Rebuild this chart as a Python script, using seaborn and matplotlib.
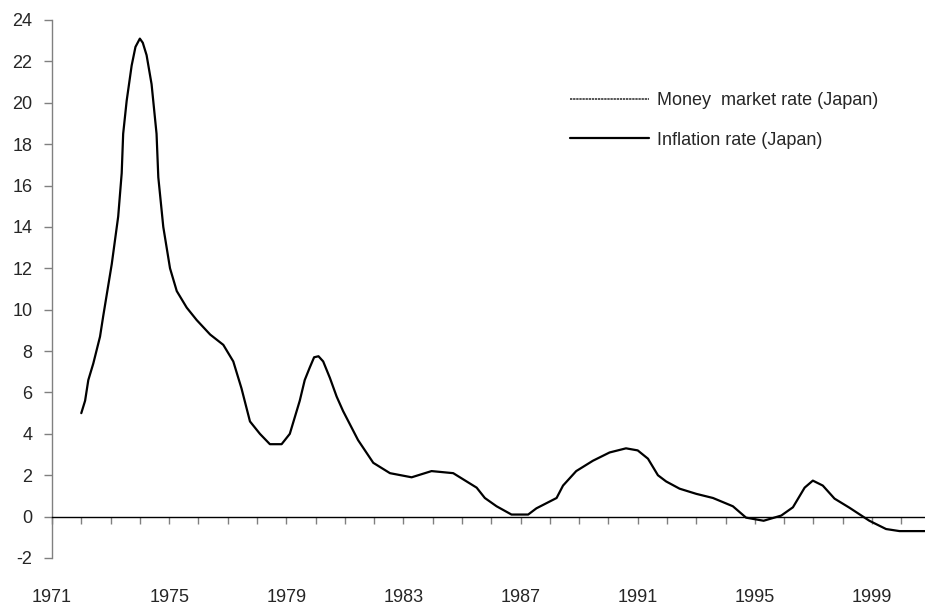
import matplotlib
matplotlib.use("Agg")
import matplotlib.pyplot as plt
from matplotlib.lines import Line2D
from matplotlib import font_manager
import seaborn as sns
import pandas as pd

years = [1972.0, 1972.13, 1972.24, 1972.41, 1972.64, 1972.75, 1973.04, 1973.26, 1973.38,
         1973.43, 1973.55, 1973.72, 1973.85, 1974.0, 1974.1, 1974.23, 1974.4, 1974.57,
         1974.63, 1974.8, 1975.03, 1975.26, 1975.6, 1975.94, 1976.4, 1976.85, 1977.19,
         1977.47, 1977.76, 1978.1, 1978.44, 1978.84, 1979.12, 1979.46, 1979.63, 1979.8,
         1979.95, 1980.1, 1980.26, 1980.49, 1980.72, 1980.94, 1981.45, 1981.97, 1982.54,
         1983.28, 1983.96, 1984.7, 1985.5, 1985.78, 1986.18, 1986.69, 1987.26, 1987.54,
         1988.23, 1988.45, 1988.9, 1989.47, 1990.04, 1990.6, 1991.0, 1991.35, 1991.69,
         1991.97, 1992.43, 1993.0, 1993.57, 1994.25, 1994.7, 1995.3, 1995.9, 1996.3,
         1996.7, 1996.98, 1997.32, 1997.72, 1998.23, 1998.91, 1999.48, 1999.94, 2000.8]
inflation = [5.0, 5.6, 6.6, 7.4, 8.7, 9.7, 12.2, 14.5, 16.6,
             18.5, 20.1, 21.8, 22.7, 23.1, 22.9, 22.3, 20.9, 18.5,
             16.4, 14.0, 12.0, 10.9, 10.1, 9.5, 8.8, 8.3, 7.5,
             6.2, 4.6, 4.0, 3.5, 3.5, 4.0, 5.6, 6.6, 7.2,
             7.7, 7.75, 7.5, 6.7, 5.8, 5.1, 3.7, 2.6, 2.1,
             1.9, 2.2, 2.1, 1.4, 0.9, 0.5, 0.1, 0.1, 0.4,
             0.9, 1.5, 2.2, 2.7, 3.1, 3.3, 3.2, 2.8, 2.0,
             1.7, 1.35, 1.1, 0.9, 0.5, -0.05, -0.2, 0.05, 0.45,
             1.4, 1.74, 1.5, 0.87, 0.43, -0.2, -0.6, -0.7, -0.7]

x_tick_labels = ["1971", "1975", "1979", "1983", "1987", "1991", "1995", "1999"]
y_ticks = list(range(-2, 25, 2))
legend_labels = ["Money  market rate (Japan)", "Inflation rate (Japan)"]

sns.set_style("white")
names = {f.name for f in font_manager.fontManager.ttflist}
narrow = "Liberation Sans Narrow" in names
plt.rcParams["font.family"] = ["Liberation Sans", "DejaVu Sans"]
small_font = {"family": ["Liberation Sans Narrow" if narrow else "Liberation Sans"],
              "size": 15 if narrow else 13}

fig = plt.figure(figsize=(9.25, 6.11), dpi=100)
ax = fig.add_axes([52 / 925, 1 - 558 / 611, 1 - 52 / 925, (558 - 20) / 611])

df = pd.DataFrame({"year": years, "inflation": inflation})
sns.lineplot(data=df, x="year", y="inflation", ax=ax, color="black", linewidth=1.6,
             sort=False, estimator=None)

ax.set_xlim(1971, 2000.81)
ax.set_ylim(-2, 24)
ax.set_xlabel("")
ax.set_ylabel("")

for s in ["top", "right"]:
    ax.spines[s].set_visible(False)
ax.spines["left"].set_color("#808080")
ax.spines["left"].set_linewidth(1.0)
ax.spines["bottom"].set_position(("data", 0))
ax.spines["bottom"].set_color("black")
ax.spines["bottom"].set_linewidth(1.0)

ax.set_yticks(y_ticks)
ax.set_yticklabels([str(v) for v in y_ticks], fontsize=13)
ax.tick_params(axis="y", direction="out", length=6, width=1, color="#808080", pad=8,
               left=True)

major = [int(t) for t in x_tick_labels]
ax.set_xticks(major)
ax.set_xticklabels(x_tick_labels, fontdict=small_font)
ax.set_xticks(list(range(1971, 2001)), minor=True)
ax.tick_params(axis="x", which="both", direction="out", length=5, width=1,
               color="#808080", bottom=True)
ax.tick_params(axis="x", which="major", pad=47)

handles = [Line2D([], [], color="#555555", linestyle=(0, (1.2, 0.4)), linewidth=1.4),
           Line2D([], [], color="black", linewidth=1.6)]
leg = ax.legend(handles, legend_labels, loc="upper left",
                bbox_to_anchor=(570 / 925, 1 - 92 / 611), bbox_transform=fig.transFigure,
                frameon=False, prop=small_font, handlelength=4.4, handletextpad=0.4,
                borderpad=0, borderaxespad=0, labelspacing=1.25)

fig.savefig("out.png", dpi=100)
